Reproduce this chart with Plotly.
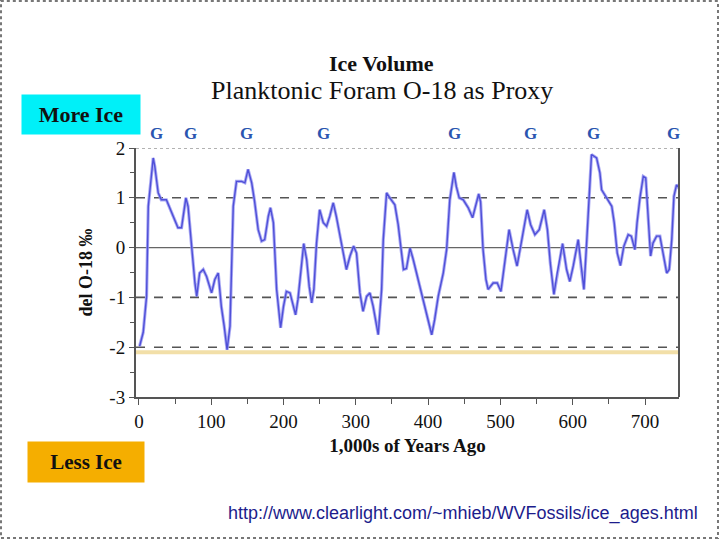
import plotly.graph_objects as go

# planktonic foram O-18
AGE_KYR = [1, 6, 10.6, 13, 19.8, 22, 26.7, 31, 38, 47, 54, 59, 65, 68, 73, 77.5, 80,
           84, 89, 93.6, 100.5, 105, 109.7, 114, 118, 122, 126, 130.5, 135, 142, 146.6,
           151, 156, 160, 165, 169.7, 174, 179, 182, 186, 190.5, 196, 200, 204, 209,
           212.6, 216.7, 220, 223.6, 228, 232, 235.6, 239, 242, 245.7, 250, 255, 259.6,
           264, 268.8, 273, 278, 282.6, 287, 292, 297, 301, 305.7, 310, 315, 319.5, 324,
           331, 335.7, 338, 342.6, 347, 354, 358.6, 363, 366, 370, 375, 379.4, 386, 393,
           400, 405, 409, 414, 421, 425.6, 430, 435.7, 439, 443, 448.6, 455.5, 461.5,
           466, 470, 472.6, 476, 480, 483, 490, 495.6, 500.7, 506, 512, 517.6, 523, 528,
           532.5, 537, 541.8, 547.7, 553.7, 560.6, 565, 569, 574, 578.6, 586, 591.5, 596,
           600.7, 607.6, 612, 615.5, 619, 623, 626, 633, 637.6, 640, 647, 654, 657.4,
           661.6, 666, 670.8, 676.8, 681, 686, 689, 693, 697.6, 701, 704.5, 707.7, 711,
           716, 720.6, 725, 730, 733.5, 737, 740, 743.6, 747]
DEL_O18 = [-1.98, -1.7, -0.98, 0.83, 1.8, 1.63, 1.1, 0.96, 0.96, 0.63, 0.4, 0.4, 1.0,
           0.83, -0.04, -0.71, -0.98, -0.51, -0.44, -0.58, -0.91, -0.64, -0.51, -1.18,
           -1.58, -2.05, -1.58, 0.83, 1.33, 1.33, 1.3, 1.57, 1.3, 0.93, 0.36, 0.13, 0.16,
           0.63, 0.8, 0.5, -0.84, -1.61, -1.18, -0.88, -0.91, -1.11, -1.35, -1.04, -0.58,
           0.08, -0.24, -0.78, -1.11, -0.84, 0.09, 0.76, 0.5, 0.43, 0.63, 0.9, 0.63, 0.23,
           -0.11, -0.44, -0.17, 0.03, -0.11, -0.91, -1.28, -0.98, -0.91, -1.18, -1.75,
           -0.84, 0.16, 1.1, 1.0, 0.86, 0.46, -0.04, -0.44, -0.42, -0.01, -0.24, -0.64,
           -1.04, -1.45, -1.75, -1.45, -0.98, -0.51, -0.04, 0.96, 1.51, 1.23, 1.0, 0.96,
           0.8, 0.6, 0.86, 1.08, 0.92, -0.04, -0.64, -0.84, -0.71, -0.71, -0.88, -0.31,
           0.36, -0.04, -0.37, 0.03, 0.36, 0.76, 0.46, 0.26, 0.36, 0.76, 0.36, -0.31,
           -0.94, -0.51, 0.08, -0.44, -0.68, -0.37, 0.16, -0.44, -0.84, 0.03, 1.1, 1.87,
           1.8, 1.5, 1.16, 1.0, 0.83, 0.5, -0.11, -0.36, 0.03, 0.26, 0.23, -0.04, 0.5,
           1.0, 1.43, 1.4, 0.5, -0.17, 0.09, 0.23, 0.23, -0.11, -0.51, -0.44, 0.16, 1.03,
           1.26, 1.2]

# glacial maxima marked with a "G" above the plot
GLACIAL_AGES = [25, 72, 149, 255, 436, 542, 629, 740]

X_TICKS = [0, 100, 200, 300, 400, 500, 600, 700]
Y_TICKS = [-3, -2, -1, 0, 1, 2]
Y_TICK_TEXT = ["-3", "-2", "-1", "0", "1", "2"]  # plain hyphens like the original
DASHED_LEVELS = [1, -1, -2]
ICE_FREE_LEVEL = -2.1

SERIF = "Liberation Serif"

fig = go.Figure()
fig.add_trace(go.Scatter(x=AGE_KYR, y=DEL_O18, mode="lines",
                         line=dict(color="rgba(150,150,240,0.8)", width=3.2),
                         hoverinfo="skip", showlegend=False))
fig.add_trace(go.Scatter(x=AGE_KYR, y=DEL_O18, mode="lines",
                         line=dict(color="#4f4fd8", width=1.4),
                         showlegend=False))

# reference lines across the plot
for lvl in DASHED_LEVELS:
    fig.add_shape(type="line", xref="paper", x0=0, x1=1, yref="y", y0=lvl, y1=lvl,
                  line=dict(color="#555555", width=1.6, dash="dash"), layer="below")
fig.add_shape(type="line", xref="paper", x0=0, x1=1, yref="y", y0=0, y1=0,
              line=dict(color="#666666", width=1.3), layer="below")
fig.add_shape(type="line", xref="paper", x0=0, x1=1, yref="y", y0=2, y1=2,
              line=dict(color="#999999", width=1.3, dash="dot"), layer="below")
fig.add_shape(type="line", xref="paper", x0=1, x1=1, yref="paper", y0=0, y1=1,
              line=dict(color="#555555", width=2))
fig.add_shape(type="line", xref="paper", x0=0, x1=1, yref="y",
              y0=ICE_FREE_LEVEL, y1=ICE_FREE_LEVEL,
              line=dict(color="#f2dfa8", width=4), layer="below")

# frame round the whole slide
fig.add_shape(type="rect", xref="paper", yref="paper",
              x0=-0.2486, x1=1.0718, y0=-0.566, y1=1.590,
              line=dict(color="#777777", width=2, dash="dot"))

for age in GLACIAL_AGES:
    fig.add_annotation(x=age, xref="x", y=1.06, yref="paper", text="<b>G</b>",
                       showarrow=False, xanchor="center", yanchor="middle",
                       font=dict(family=SERIF, size=17, color="#2a55b0"))

fig.add_annotation(x=0.453, y=1.341, xref="paper", yref="paper", showarrow=False,
                   xanchor="center", yanchor="middle",
                   text="<b>Ice Volume</b>", font=dict(family=SERIF, size=22, color="#111"))
fig.add_annotation(x=0.453, y=1.229, xref="paper", yref="paper", showarrow=False,
                   xanchor="center", yanchor="middle",
                   text="Planktonic Foram O-18 as Proxy",
                   font=dict(family=SERIF, size=26, color="#111"))

fig.add_annotation(x=-0.1013, y=1.1345, xref="paper", yref="paper", showarrow=False,
                   xanchor="center", yanchor="middle",
                   text="<b>More Ice</b>", bgcolor="#00f0f8", width=116, height=37,
                   font=dict(family=SERIF, size=22, color="#111"))
fig.add_annotation(x=-0.092, y=-0.261, xref="paper", yref="paper", showarrow=False,
                   xanchor="center", yanchor="middle",
                   text="<b>Less Ice</b>", bgcolor="#f5ae00", width=114, height=38,
                   font=dict(family=SERIF, size=21, color="#111"))

fig.add_annotation(x=1.0387, y=-0.466, xref="paper", yref="paper", showarrow=False,
                   xanchor="right", yanchor="middle",
                   text="http://www.clearlight.com/~mhieb/WVFossils/ice_ages.html",
                   font=dict(family="Liberation Sans", size=18, color="#1c1c8c"))

fig.update_layout(
    width=720, height=540,
    margin=dict(l=136, r=41, t=148, b=143, autoexpand=False),
    paper_bgcolor="white", plot_bgcolor="white",
    font=dict(family=SERIF, color="#111"),
    xaxis=dict(range=[-4, 747], tickvals=X_TICKS, showgrid=False, zeroline=False,
               automargin=False,
               showline=True, linecolor="#555555", linewidth=2,
               ticks="outside", ticklen=6, tickcolor="#555555",
               minor=dict(dtick=50, ticks="outside", ticklen=5, tickcolor="#555555"),
               tickfont=dict(family=SERIF, size=19),
               title=dict(text="<b>1,000s of Years Ago</b>", standoff=8,
                          font=dict(family=SERIF, size=19))),
    yaxis=dict(range=[-3, 2], tickvals=Y_TICKS, ticktext=Y_TICK_TEXT,
               showgrid=False, zeroline=False, automargin=False,
               showline=True, linecolor="#555555", linewidth=2,
               ticks="outside", ticklen=5, tickcolor="#555555",
               minor=dict(dtick=0.5, ticks="outside", ticklen=4, tickcolor="#555555"),
               tickfont=dict(family=SERIF, size=19),
               title=dict(text="<b>del O-18 ‰</b>", standoff=12,
                          font=dict(family=SERIF, size=18))),
)

# the page's default 8px body margin would push the figure off the window
fig.write_html("out.html", config={"displayModeBar": False},
               post_script="document.body.style.margin='0';")
